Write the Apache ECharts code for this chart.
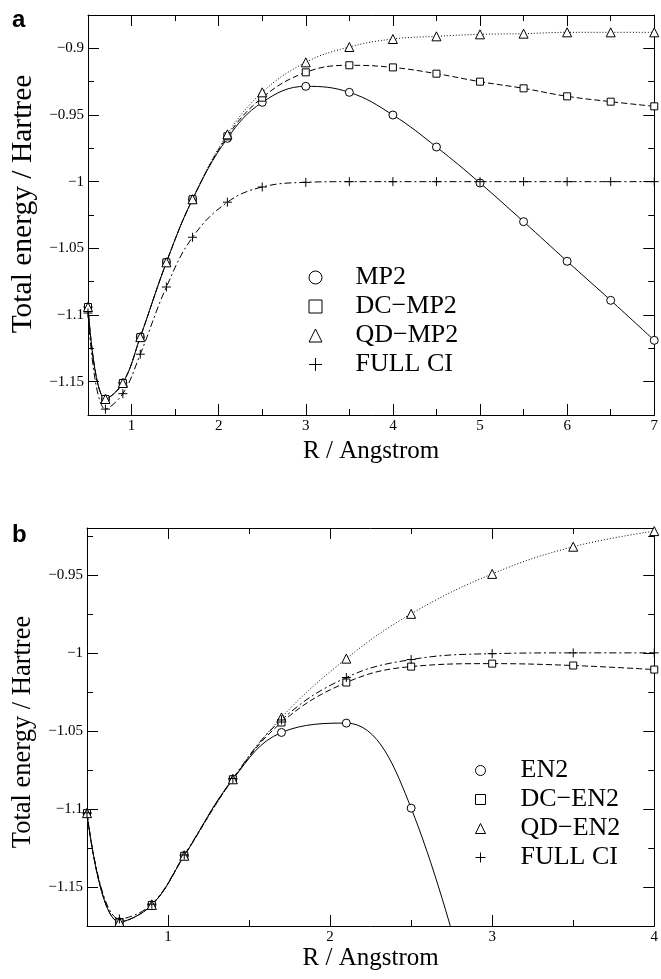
<!DOCTYPE html>
<html><head><meta charset="utf-8">
<script src="https://cdn.jsdelivr.net/npm/echarts@6/dist/echarts.min.js"></script>
<style>html,body{margin:0;padding:0;background:#fff}#c{width:661px;height:979px}</style>
</head><body><div id="c"></div>
<script>
// ---------- Panel a data ----------
const R_A = [0.5, 0.7, 0.9, 1.1, 1.4, 1.7, 2.1, 2.5, 3.0, 3.5, 4.0, 4.5, 5.0, 5.5, 6.0, 6.5, 7.0];
const MP2 = [-1.094, -1.163, -1.151, -1.1166, -1.0605, -1.0132, -0.9675, -0.9405, -0.9285, -0.933, -0.950, -0.974, -1.001, -1.030, -1.0597, -1.089, -1.119];
const DC_MP2 = [-1.094, -1.163, -1.151, -1.1166, -1.0605, -1.0132, -0.966, -0.937, -0.918, -0.9127, -0.9143, -0.919, -0.925, -0.930, -0.936, -0.940, -0.9435];
const QD_MP2 = [-1.094, -1.163, -1.151, -1.1166, -1.0605, -1.0132, -0.9645, -0.933, -0.9105, -0.899, -0.893, -0.891, -0.8895, -0.889, -0.888, -0.888, -0.888];
const FCI_A = [-1.0985, -1.1706, -1.159, -1.1294, -1.079, -1.0417, -1.0154, -1.004, -1.0005, -1.0, -1.0, -1.0, -1.0, -1.0, -1.0, -1.0, -1.0];
const XMAJOR_A = [1, 2, 3, 4, 5, 6, 7];
const XMINOR_A = [0.5, 1.5, 2.5, 3.5, 4.5, 5.5, 6.5];
const YMAJOR_A = [-1.15, -1.1, -1.05, -1, -0.95, -0.9];
const YMINOR_A = [-1.175, -1.125, -1.075, -1.025, -0.975, -0.925, -0.875];

// ---------- Panel b data ----------
const R_B = [0.5, 0.7, 0.9, 1.1, 1.4, 1.7, 2.1, 2.5, 3.0, 3.5, 4.0];
const R_EN2 = [0.5, 0.7, 0.9, 1.1, 1.4, 1.7, 2.1, 2.5, 3.0];
const EN2 = [-1.1027, -1.1724, -1.1615, -1.130, -1.081, -1.051, -1.045, -1.0995, -1.28];
const DC_EN2 = [-1.1027, -1.1724, -1.1615, -1.130, -1.081, -1.0446, -1.019, -1.0088, -1.0069, -1.0081, -1.0107];
const QD_EN2 = [-1.1027, -1.1724, -1.1615, -1.130, -1.081, -1.0414, -1.0037, -0.975, -0.9494, -0.932, -0.922];
const FCI_B = [-1.1025, -1.1705, -1.161, -1.1295, -1.0805, -1.043, -1.0158, -1.0043, -1.0005, -1.0, -1.0];
const XMAJOR_B = [1, 2, 3, 4];
const XMINOR_B = [0.5, 1.5, 2.5, 3.5];
const YMAJOR_B = [-1.15, -1.1, -1.05, -1, -0.95];
const YMINOR_B = [-1.175, -1.125, -1.075, -1.025, -0.975, -0.925];

const NAMES_A = ['MP2', 'DC\u2212MP2', 'QD\u2212MP2', 'FULL CI'];
const NAMES_B = ['EN2', 'DC\u2212EN2', 'QD\u2212EN2', 'FULL CI'];

const SERIF = 'Liberation Serif';
const PLUS = 'path://M5,0L5,10M0,5L10,5';
const fmt = v => String(v).replace('-', '\u2212');

function xAxes(g, min, max, major, minor, name, nameGap) {
  const base = {gridIndex: g, type: 'value', min, max, splitLine: {show: false}};
  return [
    Object.assign({}, base, {position: 'bottom', name, nameLocation: 'middle', nameGap,
      nameTextStyle: {fontFamily: SERIF, fontSize: 25, color: '#000', verticalAlign: 'top'},
      axisLine: {show: true, onZero: false, lineStyle: {color: '#000', width: 1}},
      axisTick: {show: true, inside: true, length: 11, customValues: major, lineStyle: {color: '#000'}},
      axisLabel: {show: true, customValues: major, margin: 4, fontFamily: SERIF, fontSize: 15, color: '#000', formatter: fmt}}),
    Object.assign({}, base, {position: 'bottom', axisLine: {show: false, onZero: false},
      axisTick: {show: true, inside: true, length: 6, customValues: minor, lineStyle: {color: '#000'}},
      axisLabel: {show: false}}),
    Object.assign({}, base, {position: 'top', axisLine: {show: true, onZero: false, lineStyle: {color: '#000', width: 1}},
      axisTick: {show: true, inside: true, length: 11, customValues: major, lineStyle: {color: '#000'}},
      axisLabel: {show: false}}),
    Object.assign({}, base, {position: 'top', axisLine: {show: false, onZero: false},
      axisTick: {show: true, inside: true, length: 6, customValues: minor, lineStyle: {color: '#000'}},
      axisLabel: {show: false}})
  ];
}
function yAxes(g, min, max, major, minor, nameSize, namePad) {
  const base = {gridIndex: g, type: 'value', min, max, splitLine: {show: false}};
  return [
    Object.assign({}, base, {position: 'left', name: 'Total energy / Hartree', nameLocation: 'middle', nameGap: 50,
      nameTextStyle: {fontFamily: SERIF, fontSize: nameSize, color: '#000', padding: namePad},
      axisLine: {show: true, onZero: false, lineStyle: {color: '#000', width: 1}},
      axisTick: {show: true, inside: true, length: 11, customValues: major, lineStyle: {color: '#000'}},
      axisLabel: {show: true, customValues: major, margin: 4, fontFamily: SERIF, fontSize: 15, color: '#000', formatter: fmt}}),
    Object.assign({}, base, {position: 'left', axisLine: {show: false, onZero: false},
      axisTick: {show: true, inside: true, length: 6, customValues: minor, lineStyle: {color: '#000'}},
      axisLabel: {show: false}}),
    Object.assign({}, base, {position: 'right', axisLine: {show: true, onZero: false, lineStyle: {color: '#000', width: 1}},
      axisTick: {show: true, inside: true, length: 11, customValues: major, lineStyle: {color: '#000'}},
      axisLabel: {show: false}}),
    Object.assign({}, base, {position: 'right', axisLine: {show: false, onZero: false},
      axisTick: {show: true, inside: true, length: 6, customValues: minor, lineStyle: {color: '#000'}},
      axisLabel: {show: false}})
  ];
}

const pairs = (xs, ys) => xs.map((x, i) => [x, ys[i]]);

function mkSeries(name, xi, data, symbol, size, dash) {
  return {
    name, type: 'line', xAxisIndex: xi, yAxisIndex: xi, data,
    smooth: 0.4, symbol, symbolSize: size, showSymbol: true, clip: true,
    color: '#000',
    itemStyle: {color: '#fff', borderColor: '#000', borderWidth: 1},
    lineStyle: {color: '#000', width: 1, type: dash},
    emphasis: {disabled: true}, z: 3
  };
}

const legendIcons = ['circle', 'rect', 'triangle', PLUS];
function mkLegend(names, iconCenterX, textX, top, iconH) {
  const left = iconCenterX - iconH / 2;
  const pad = textX - (left + iconH + 5);
  return {
    orient: 'vertical', left, top, itemWidth: iconH, itemHeight: iconH, itemGap: 0,
    selectedMode: false, padding: 0,
    data: names.map((n, i) => ({name: n, icon: legendIcons[i]})),
    itemStyle: {color: '#fff', borderColor: '#000', borderWidth: 1},
    textStyle: {fontFamily: SERIF, fontSize: 26, color: '#000', lineHeight: 29, padding: [0, 0, 0, pad]}
  };
}

const option = {
  animation: false,
  backgroundColor: '#fff',
  title: [
    {text: 'a', left: 12, top: 8, padding: 0, textStyle: {fontFamily: 'Liberation Sans', fontWeight: 'bold', fontSize: 24, color: '#000'}},
    {text: 'b', left: 12, top: 523, padding: 0, textStyle: {fontFamily: 'Liberation Sans', fontWeight: 'bold', fontSize: 24, color: '#000'}}
  ],
  grid: [
    {left: 86, right: 4, top: 15, height: 400},
    {left: 87, right: 5, top: 528, height: 398}
  ],
  xAxis: [].concat(
    xAxes(0, 0.5, 7, XMAJOR_A, XMINOR_A, 'R / Angstrom', 24),
    xAxes(1, 0.5, 4, XMAJOR_B, XMINOR_B, 'R / Angstrom', 6)
  ),
  yAxis: [].concat(
    yAxes(0, -1.175, -0.875, YMAJOR_A, YMINOR_A, 29.5, [0, 0, 0, 22]),
    yAxes(1, -1.175, -0.92, YMAJOR_B, YMINOR_B, 26.5, [0, 10, 0, 0])
  ),
  legend: [mkLegend(NAMES_A, 315, 355, 263, 13), mkLegend(NAMES_B, 480, 520, 756, 10)],
  series: [
    mkSeries(NAMES_A[0], 0, pairs(R_A, MP2), 'circle', 8, 'solid'),
    mkSeries(NAMES_A[1], 0, pairs(R_A, DC_MP2), 'rect', 7, [6, 3]),
    mkSeries(NAMES_A[2], 0, pairs(R_A, QD_MP2), 'triangle', 9, [1, 2]),
    mkSeries(NAMES_A[3], 0, pairs(R_A, FCI_A), PLUS, 9, [7, 3, 2, 3]),
    mkSeries(NAMES_B[0], 4, pairs(R_EN2, EN2), 'circle', 8, 'solid'),
    mkSeries(NAMES_B[1], 4, pairs(R_B, DC_EN2), 'rect', 7, [6, 3]),
    mkSeries(NAMES_B[2], 4, pairs(R_B, QD_EN2), 'triangle', 9, [1, 2]),
    mkSeries(NAMES_B[3], 4, pairs(R_B, FCI_B), PLUS, 9, [7, 3, 2, 3])
  ]
};

const chart = echarts.init(document.getElementById('c'));
chart.setOption(option);
</script>
</body></html>
